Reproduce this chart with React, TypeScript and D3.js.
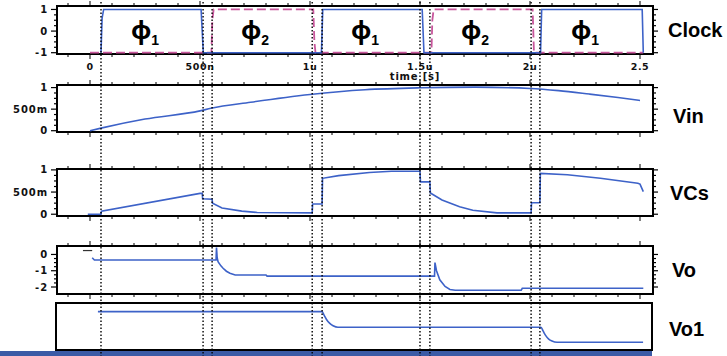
import React from "react";
import * as d3 from "d3";

const W = 727;
const H = 356;

// ---- time axis (microseconds) ----
const timeTicks = [0, 0.5, 1, 1.5, 2, 2.5];
const timeTickLabels = ["0", "500n", "1u", "1.5u", "2u", "2.5"];
const switchTimes = [0.05, 0.514, 0.555, 1.01, 1.055, 1.5, 1.545, 2.005, 2.045];
const phaseCenters = [0.25, 0.75, 1.25, 1.75, 2.25];
const phaseSubs = ["1", "2", "1", "2", "1"];
const signalNames = ["Clock", "Vin", "VCs", "Vo", "Vo1"];

// ---- clock phases [t, level] ----
const phi1: [number, number][] = [
  [0.05, -1], [0.055, 0.6], [0.062, 1], [0.505, 1], [0.515, -1],
  [1.052, -1], [1.058, 1], [1.51, 1], [1.518, -1],
  [2.048, -1], [2.053, 1], [2.51, 1], [2.515, -1],
];
const phi2: [number, number][] = [
  [0, -1], [0.552, -1], [0.556, 0.5], [0.562, 1], [1.015, 1], [1.02, -0.5], [1.025, -1],
  [1.552, -1], [1.556, 0.5], [1.562, 1], [2.012, 1], [2.018, -1], [2.515, -1],
];

// ---- Vin ----
const vin: [number, number][] = [
  [0, 0], [0.05, 0.06], [0.25, 0.27], [0.5, 0.46], [0.55, 0.52], [0.73, 0.66],
  [1.0, 0.84], [1.25, 0.95], [1.5, 0.995], [1.75, 1.01], [2.0, 0.98],
  [2.13, 0.93], [2.27, 0.85], [2.4, 0.77], [2.5, 0.7],
];

// ---- VCs ----
const vcs: [number, number][] = [
  [-0.01, 0], [0.05, 0], [0.052, 0.07], [0.5, 0.47], [0.51, 0.47], [0.512, 0.35],
  [0.555, 0.34], [0.557, 0.25], [0.6, 0.14], [0.69, 0.07], [0.76, 0.04], [1.01, 0.03],
  [1.012, 0.23], [1.055, 0.23], [1.057, 0.81], [1.13, 0.87], [1.27, 0.94], [1.37, 0.97],
  [1.5, 0.97], [1.502, 0.73], [1.545, 0.73], [1.547, 0.48], [1.6, 0.32], [1.68, 0.17],
  [1.74, 0.09], [1.85, 0.03], [2.005, 0.03], [2.007, 0.26], [2.045, 0.26], [2.047, 0.92],
  [2.17, 0.89], [2.32, 0.81], [2.49, 0.7], [2.5, 0.68], [2.515, 0.51],
];

// ---- Vo ----
const voStart: [number, number][] = [[-0.032, 0.24], [0.01, 0.24]];
const vo: [number, number][] = [
  [0.01, -0.2], [0.02, -0.34], [0.573, -0.34], [0.575, 0.42], [0.578, -0.2],
  [0.582, -0.45], [0.595, -0.7], [0.605, -0.85], [0.62, -1.03], [0.636, -1.15],
  [0.66, -1.26], [0.8, -1.26], [0.805, -1.33], [1.566, -1.33], [1.568, -0.5],
  [1.575, -1.0], [1.59, -1.56], [1.614, -1.97], [1.636, -2.15], [1.66, -2.2],
  [1.96, -2.2], [1.965, -2.08], [2.515, -2.08],
];

// ---- Vo1 ----
const vo1: [number, number][] = [
  [0.036, -0.05], [1.055, -0.05], [1.065, -0.3], [1.075, -0.55], [1.09, -0.8],
  [1.105, -0.95], [1.127, -1.05], [2.05, -1.05], [2.06, -1.3], [2.07, -1.55],
  [2.085, -1.8], [2.1, -1.93], [2.123, -2.01], [2.514, -2.01],
];

// ---- y tick values / labels ----
const clockTicks = [-1, 0, 1];
const clockTickLabels = ["-1", "0", "1"];
const vinTicks = [0, 0.5, 1];
const vinTickLabels = ["0", "500m", "1"];
const vcsTicks = [0, 0.5, 1];
const vcsTickLabels = ["0", "500m", "1"];
const voTicks = [-2, -1, 0];
const voTickLabels = ["-2", "-1", "0"];

const BLUE = "#3d62c8";
const PINK = "#c8579c";
const TICK_FONT = "'DejaVu Sans', sans-serif";
const LABEL_FONT = "'Liberation Sans', Arial, sans-serif";

type Panel = {
  name: string;
  top: number;
  bottom: number;
  left: number;
  right: number;
  domain: [number, number];
  ticks: number[] | null;
  tickLabels: string[] | null;
  labelX: number;
  labelY: number;
  axes: boolean;
};

export default function App() {
  const x = d3.scaleLinear().domain([0, 2.5]).range([90, 640]);

  const panels: Panel[] = [
    { name: signalNames[0], top: 6, bottom: 54, left: 57, right: 653, domain: [-1.06, 1.16], ticks: clockTicks, tickLabels: clockTickLabels, labelX: 668, labelY: 37, axes: true },
    { name: signalNames[1], top: 85, bottom: 132, left: 57, right: 653, domain: [-0.03, 1.06], ticks: vinTicks, tickLabels: vinTickLabels, labelX: 673, labelY: 123, axes: true },
    { name: signalNames[2], top: 169, bottom: 216, left: 57, right: 653, domain: [-0.04, 1.02], ticks: vcsTicks, tickLabels: vcsTickLabels, labelX: 670, labelY: 200, axes: true },
    { name: signalNames[3], top: 246, bottom: 294, left: 57, right: 653, domain: [-2.43, 0.52], ticks: voTicks, tickLabels: voTickLabels, labelX: 672, labelY: 277, axes: true },
    { name: signalNames[4], top: 303, bottom: 350, left: 56, right: 652, domain: [-2.5, 0.5], ticks: null, tickLabels: null, labelX: 669, labelY: 336, axes: false },
  ];
  const yScales = panels.map((p) => d3.scaleLinear().domain(p.domain).range([p.bottom, p.top]));

  const mk = (ys: d3.ScaleLinear<number, number>, curve: d3.CurveFactory = d3.curveLinear) =>
    d3.line<[number, number]>().x((d) => x(d[0])).y((d) => ys(d[1])).curve(curve);

  const xMinor = d3.range(-1, 26).map((i) => i / 10);

  return (
    <svg width={W} height={H} style={{ position: "absolute", left: 0, top: 0, background: "#fff" }}>
      <rect x={0} y={0} width={W} height={H} fill="#fff" />
      {panels.map((p, pi) => {
        const ys = yScales[pi];
        const els: React.ReactNode[] = [];
        if (p.axes && p.ticks) {
          xMinor.forEach((t, i) => {
            const major = Math.abs(t * 2 - Math.round(t * 2)) < 1e-6;
            const len = major ? 5 : 3;
            const xx = x(t);
            els.push(<line key={`tt${i}`} x1={xx} x2={xx} y1={p.top} y2={p.top - len} stroke="#000" strokeWidth={1} />);
            els.push(<line key={`tb${i}`} x1={xx} x2={xx} y1={p.bottom} y2={p.bottom + len} stroke="#000" strokeWidth={1} />);
          });
          const step = p.ticks[1] - p.ticks[0];
          const minor = d3.range(0, (p.ticks.length - 1) * 4 + 1).map((i) => p.ticks![0] + (i * step) / 4);
          minor.forEach((v, i) => {
            const yy = ys(v);
            const major = i % 4 === 0;
            els.push(<line key={`yl${i}`} x1={p.left} x2={p.left - (major ? 6 : 3)} y1={yy} y2={yy} stroke="#000" strokeWidth={1.2} />);
            els.push(<line key={`yr${i}`} x1={p.right} x2={p.right + (major ? 5 : 3)} y1={yy} y2={yy} stroke="#000" strokeWidth={1.2} />);
          });
          p.ticks.forEach((v, i) => {
            els.push(
              <text key={`yt${i}`} x={48} y={ys(v) + 3.5} textAnchor="end" fontFamily={TICK_FONT} fontWeight="bold" fontSize={10} letterSpacing={0.9} fill="#111">
                {p.tickLabels![i]}
              </text>
            );
          });
        }
        els.push(
          <rect key="frame" x={p.left} y={p.top} width={p.right - p.left} height={p.bottom - p.top} fill="none" stroke="#000" strokeWidth={2} />
        );
        els.push(
          <text key="name" x={p.labelX} y={p.labelY} fontFamily={LABEL_FONT} fontWeight="bold" fontSize={20} fill="#000">
            {p.name}
          </text>
        );
        return <g key={p.name}>{els}</g>;
      })}

      {timeTicks.map((t, i) => (
        <text key={`xl${i}`} x={x(t)} y={70} textAnchor="middle" fontFamily={TICK_FONT} fontWeight="bold" fontSize={9.5} letterSpacing={0.6} fill="#111">
          {timeTickLabels[i]}
        </text>
      ))}
      <text x={415} y={80} textAnchor="middle" fontFamily={TICK_FONT} fontWeight="bold" fontSize={10} letterSpacing={0.8} fill="#111">
        time [s]
      </text>

      <path d={mk(yScales[0])(phi2) || ""} fill="none" stroke={PINK} strokeWidth={1.8} strokeDasharray="9,4" />
      <path d={mk(yScales[0])(phi1) || ""} fill="none" stroke={BLUE} strokeWidth={1.6} />
      <path d={mk(yScales[1], d3.curveMonotoneX)(vin) || ""} fill="none" stroke={BLUE} strokeWidth={1.6} />
      <path d={mk(yScales[2])(vcs) || ""} fill="none" stroke={BLUE} strokeWidth={1.6} />
      <path d={mk(yScales[3])(voStart) || ""} fill="none" stroke="#333" strokeWidth={1.2} />
      <path d={mk(yScales[3])(vo) || ""} fill="none" stroke={BLUE} strokeWidth={1.6} />
      <path d={mk(yScales[4], d3.curveMonotoneX)(vo1) || ""} fill="none" stroke={BLUE} strokeWidth={1.6} />

      {phaseCenters.map((t, i) => (
        <text key={`ph${i}`} x={x(t)} y={39} textAnchor="middle" fontFamily="'Noto Sans', 'DejaVu Sans', sans-serif" fontWeight="bold" fontSize={25} fill="#000">
          {"\u03D5"}
          <tspan dy={6} fontSize={14} fontFamily={LABEL_FONT}>{phaseSubs[i]}</tspan>
        </text>
      ))}

      <rect x={0} y={351} width={652} height={5} fill="#3b5ba6" />

      {switchTimes.map((t, i) => (
        <line key={`sw${i}`} x1={x(t)} x2={x(t)} y1={2} y2={H} stroke="#000" strokeWidth={1.4} strokeDasharray="1.5,2" />
      ))}
    </svg>
  );
}
